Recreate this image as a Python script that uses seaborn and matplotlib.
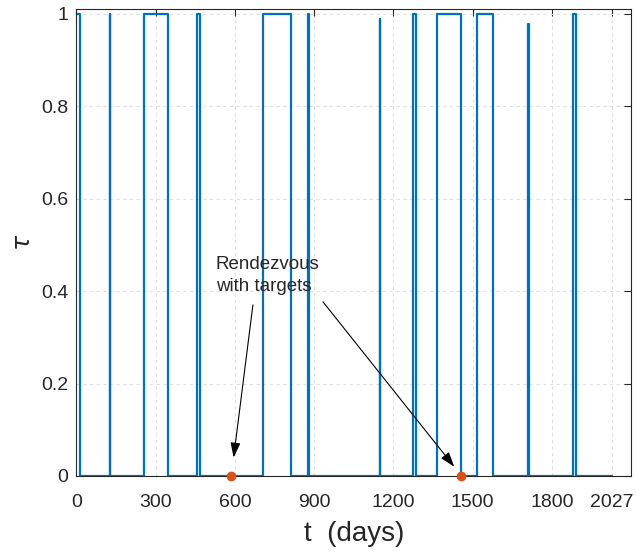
import numpy as np
import pandas as pd
import matplotlib
matplotlib.use("Agg")
import matplotlib.pyplot as plt
import seaborn as sns

# switching times of the throttle tau (days) and the value held from each time on
switch_days = [0, 14, 126, 128, 257, 346, 457, 466, 707, 811, 875, 879,
               1148, 1150, 1272, 1287, 1364, 1455, 1516, 1575, 1710, 1712,
               1881, 1892, 2027]
tau_values = [1, 0, 1, 0, 1, 0, 1, 0, 1, 0, 1, 0,
              0.99, 0, 1, 0, 1, 0, 1, 0, 0.978, 0,
              1, 0, 0]

# rendezvous with targets
rendezvous_days = [585, 1455]
rendezvous_tau = [0, 0]

x_ticks = [0, 300, 600, 900, 1200, 1500, 1800, 2027]
y_ticks = [0, 0.2, 0.4, 0.6, 0.8, 1]
y_tick_labels = ["0", "0.2", "0.4", "0.6", "0.8", "1"]

df = pd.DataFrame({"t": switch_days, "tau": tau_values})

sns.set_style("white")
plt.rcParams['font.family'] = ['Liberation Sans', 'DejaVu Sans']
plt.rcParams['text.color'] = '#262626'
plt.rcParams['axes.labelcolor'] = '#262626'
plt.rcParams['xtick.color'] = '#262626'
plt.rcParams['ytick.color'] = '#262626'

fig = plt.figure(figsize=(6.36, 5.52), dpi=100)
ax = fig.add_axes([0.1201, 0.1377, 0.8725, 0.8455])

sns.lineplot(data=df, x="t", y="tau", ax=ax, color="#0072BD", lw=1.6,
             drawstyle="steps-post", sort=False, estimator=None)
ax.plot(rendezvous_days, rendezvous_tau, "o", color="#D95319", ms=6, zorder=5,
        clip_on=False)

ax.set_xlim(0, 2100)
ax.set_ylim(0, 1.01)
ax.set_xticks(x_ticks)
ax.set_xticklabels([str(v) for v in x_ticks])
ax.set_yticks(y_ticks)
ax.set_yticklabels(y_tick_labels)
ax.tick_params(direction="in", length=5, width=0.8, labelsize=14,
               top=True, right=True)
ax.tick_params(axis="x", pad=13)
ax.tick_params(axis="y", pad=6)
ax.grid(True, ls=(0, (3, 3)), color="#e0e0e0", lw=0.8)
for s in ax.spines.values():
    s.set_color("#262626")
    s.set_linewidth(0.8)

ax.set_xlabel("t  (days)", fontsize=20, labelpad=7)
ax.set_ylabel(r"$\tau$", fontsize=18, labelpad=4)

ax.text(528, 0.477, "Rendezvous\nwith targets", fontsize=13.5, va="top",
        ha="left", linespacing=1.4)
arrow = dict(arrowstyle="-|>,head_length=0.9,head_width=0.3", color="k",
             lw=0.8, shrinkA=0, shrinkB=0)
ax.annotate("", xy=(rendezvous_days[0] + 10, 0.04), xytext=(668, 0.37),
            arrowprops=arrow)
ax.annotate("", xy=(rendezvous_days[1] - 25, 0.02), xytext=(933, 0.377),
            arrowprops=arrow)

fig.savefig("out.png", dpi=100)
